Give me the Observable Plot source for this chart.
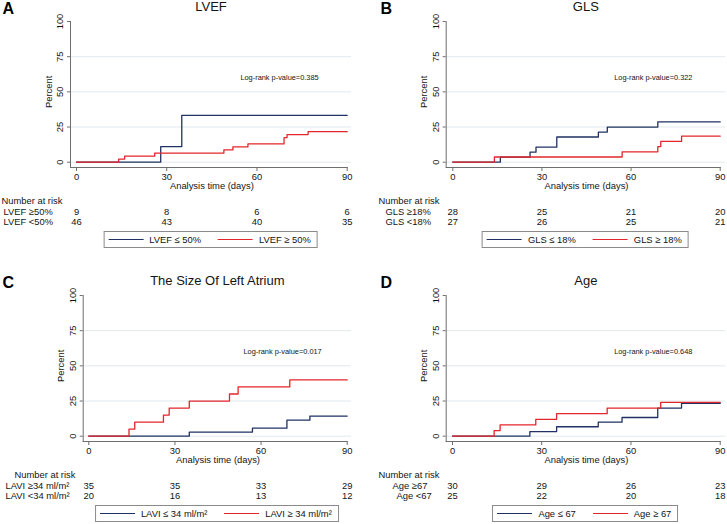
<!DOCTYPE html>
<html><head><meta charset="utf-8">
<script src="https://cdn.jsdelivr.net/npm/d3@7"></script>
<script src="https://cdn.jsdelivr.net/npm/@observablehq/plot@0.6"></script>
<style>
body{margin:0;background:#fff;}
#chart{position:relative;width:727px;height:524px;font-family:"Liberation Sans",Arial,sans-serif;color:#111;overflow:hidden;}
.panel{position:absolute;}
.legend{position:absolute;display:flex;align-items:center;box-sizing:border-box;border:1px solid #8a8a8a;height:17px;padding:0 6px 0 4px;font-size:9.4px;white-space:nowrap;transform:translateX(-50%);background:#fff;}
.sw{display:inline-block;width:35px;height:0;border-top:1.3px solid;margin-right:6px;}
.gap{display:inline-block;width:17px;}
</style></head><body><div id="chart"></div>
<script>
// ---- data ----
const xTicks = [0, 30, 60, 90];
const yTicks = [0, 25, 50, 75, 100];
const gridTicks = [0, 25, 50, 75];

const panelLetters = ["A", "B", "C", "D"];
const panelTitles = ["LVEF", "GLS", "The Size Of Left Atrium", "Age"];
const pValues = ["0.385", "0.322", "0.017", "0.648"];

const riskLabelsHigh = ["LVEF \u226550%", "GLS \u226518%", "LAVI \u226534 ml/m\u00b2", "Age \u226567"];
const riskLabelsLow = ["LVEF <50%", "GLS <18%", "LAVI <34 ml/m\u00b2", "Age <67"];
const riskHigh = [[9, 8, 6, 6], [28, 25, 21, 20], [35, 35, 33, 29], [30, 29, 26, 23]];
const riskLow = [[46, 43, 40, 35], [27, 26, 25, 21], [20, 16, 13, 12], [25, 22, 20, 18]];

const legendNavy = ["LVEF \u2264 50%", "GLS \u2264 18%", "LAVI \u2264 34 ml/m\u00b2", "Age \u2264 67"];
const legendRed = ["LVEF \u2265 50%", "GLS \u2265 18%", "LAVI \u2265 34 ml/m\u00b2", "Age \u2265 67"];

const navyTimes = [
  [0, 28, 35, 90],
  [0, 16, 26, 28, 35, 49, 52, 69, 90],
  [0, 35, 57, 69, 77, 90],
  [0, 26, 35, 49, 57, 69, 77, 90]
];
const navyPct = [
  [0, 11.1, 33.3, 33.3],
  [0, 3.6, 7.1, 10.7, 17.9, 21.4, 25.0, 28.6, 28.6],
  [0, 2.9, 5.7, 11.4, 14.3, 14.3],
  [0, 3.3, 6.7, 10.0, 13.3, 20.0, 23.3, 23.3]
];
const redTimes = [
  [0, 14, 16, 26, 49, 52, 57, 69, 70, 77, 90],
  [0, 14, 57, 69, 70, 77, 90],
  [0, 14, 16, 26, 28, 35, 49, 52, 70, 90],
  [0, 14, 16, 28, 35, 52, 70, 90]
];
const redPct = [
  [0, 2.2, 4.3, 6.5, 8.7, 10.9, 13.0, 17.4, 19.6, 21.7, 21.7],
  [0, 3.7, 7.4, 11.1, 14.8, 18.5, 18.5],
  [0, 5, 10, 15, 20, 25, 30, 35, 40, 40],
  [0, 4, 8, 12, 16, 20, 24, 24]
];

// ---- layout (pixels) ----
const NAVY = "#1f3263", RED = "#e3262b", GRID = "#e2e9ee", AXIS = "#6e6e6e", INK = "#141414";
const FONT = "'Liberation Sans', Arial, Helvetica, sans-serif";
const layout = [
  {left: 0,   top: 0,   w: 363, axisX: 70,   x0: 76,   x90: 346.7, gridR: 351, letterX: 2,  labelX: [1, 3, 3]},
  {left: 363, top: 0,   w: 364, axisX: 82.7, x0: 89.3, x90: 356.7, gridR: 362, letterX: 17, labelX: [15, 22, 22]},
  {left: 0,   top: 274, w: 363, axisX: 82.7, x0: 88.3, x90: 346.7, gridR: 351, letterX: 2,  labelX: [14, 5, 5]},
  {left: 363, top: 274, w: 364, axisX: 82.7, x0: 89,   x90: 356.7, gridR: 362, letterX: 17, labelX: [15, 29, 33]}
];
const H = 252, FT = 21, FB = 167, Y0 = 161.7;

const chart = document.getElementById("chart");

layout.forEach((L, i) => {
  const navy = navyTimes[i].map((t, j) => ({t, p: navyPct[i][j]}));
  const red = redTimes[i].map((t, j) => ({t, p: redPct[i][j]}));
  const rHigh = xTicks.map((t, j) => ({t, n: riskHigh[i][j]}));
  const rLow = xTicks.map((t, j) => ({t, n: riskLow[i][j]}));

  const svg = Plot.plot({
    width: L.w, height: H,
    marginLeft: L.axisX, marginRight: L.w - L.gridR, marginTop: FT, marginBottom: H - FB,
    x: {domain: [0, 90], range: [L.x0, L.x90], axis: null},
    y: {domain: [0, 100], range: [Y0, FT], axis: null},
    style: {fontFamily: FONT, fontSize: "9.4px", color: INK, background: "transparent", overflow: "visible"},
    marks: [
      Plot.gridY(gridTicks, {stroke: GRID, strokeOpacity: 1, strokeWidth: 1}),
      Plot.frame({anchor: "left", stroke: AXIS}),
      Plot.frame({anchor: "bottom", stroke: AXIS, insetRight: L.gridR - L.x90}),
      Plot.axisY(yTicks, {tickSize: 3, stroke: AXIS, tickFormat: () => "", label: null}),
      Plot.text(yTicks, {y: d => d, text: d => String(d), frameAnchor: "left", dx: -10.5, rotate: -90,
        textAnchor: "middle", lineAnchor: "middle", fill: INK}),
      Plot.text(["Percent"], {y: () => 50, text: d => d, frameAnchor: "left", dx: -22, rotate: -90,
        textAnchor: "middle", lineAnchor: "middle", fill: INK}),
      Plot.axisX(xTicks, {tickSize: 4, tickPadding: 2, stroke: AXIS, fill: INK, label: null}),
      Plot.text(["Analysis time (days)"], {x: () => 45, text: d => d, frameAnchor: "bottom", dy: 18,
        lineAnchor: "middle", fill: INK}),
      Plot.line(navy, {x: "t", y: "p", curve: "step-after", stroke: NAVY, strokeWidth: 1.3}),
      Plot.line(red, {x: "t", y: "p", curve: "step-after", stroke: RED, strokeWidth: 1.3}),
      Plot.text(["Log-rank p-value=" + pValues[i]], {x: () => 67.5, y: () => 60, text: d => d,
        fontSize: 7.4, lineAnchor: "middle", fill: INK}),
      Plot.text([panelTitles[i]], {text: d => d, frameAnchor: "top", dy: -14.3, fontSize: 13,
        lineAnchor: "middle", fill: INK}),
      Plot.text([panelLetters[i]], {text: d => d, frameAnchor: "top-left", dx: L.letterX - L.axisX, dy: -12.5,
        fontSize: 16, fontWeight: "bold", textAnchor: "start", lineAnchor: "middle", fill: "#000"}),
      Plot.text(["Number at risk"], {text: d => d, frameAnchor: "bottom-left", dx: L.labelX[0] - L.axisX, dy: 33,
        textAnchor: "start", lineAnchor: "middle", fill: INK}),
      Plot.text([riskLabelsHigh[i]], {text: d => d, frameAnchor: "bottom-left", dx: L.labelX[1] - L.axisX, dy: 44.5,
        textAnchor: "start", lineAnchor: "middle", fill: INK}),
      Plot.text([riskLabelsLow[i]], {text: d => d, frameAnchor: "bottom-left", dx: L.labelX[2] - L.axisX, dy: 54.5,
        textAnchor: "start", lineAnchor: "middle", fill: INK}),
      Plot.text(rHigh, {x: "t", text: "n", frameAnchor: "bottom", dy: 44.5, lineAnchor: "middle", fill: INK}),
      Plot.text(rLow, {x: "t", text: "n", frameAnchor: "bottom", dy: 54.5, lineAnchor: "middle", fill: INK})
    ]
  });
  const wrap = document.createElement("div");
  wrap.className = "panel";
  wrap.style.left = L.left + "px";
  wrap.style.top = L.top + "px";
  wrap.appendChild(svg);
  chart.appendChild(wrap);

  const lg = document.createElement("div");
  lg.className = "legend";
  lg.style.left = (L.left + (L.axisX + L.gridR) / 2) + "px";
  lg.style.top = (L.top + 231) + "px";
  lg.innerHTML = `<span class="sw" style="border-color:${NAVY}"></span><span>${legendNavy[i]}</span>` +
    `<span class="gap"></span><span class="sw" style="border-color:${RED}"></span><span>${legendRed[i]}</span>`;
  chart.appendChild(lg);
});
</script></body></html>
